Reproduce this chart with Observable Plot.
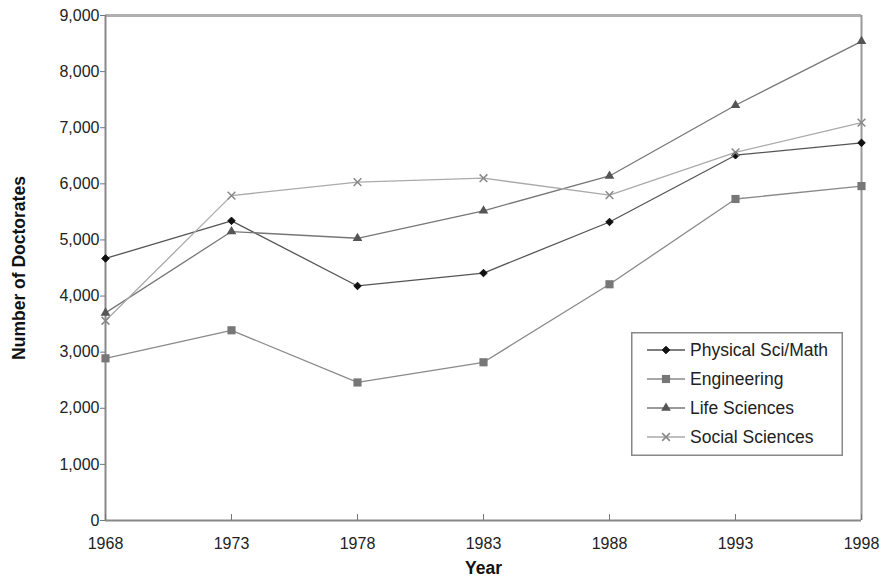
<!DOCTYPE html>
<html>
<head>
<meta charset="utf-8">
<script src="https://cdn.jsdelivr.net/npm/d3@7"></script>
<script src="https://cdn.jsdelivr.net/npm/@observablehq/plot@0.6"></script>
<style>
  html, body { margin: 0; padding: 0; background: #fff; }
  #wrap { position: relative; width: 888px; height: 586px; font-family: "Liberation Sans", Arial, sans-serif; }
  #legend { position: absolute; left: 631px; top: 332px; }
</style>
</head>
<body>
<div id="wrap"></div>
<script>
// ---- data ----
const years = [1968, 1973, 1978, 1983, 1988, 1993, 1998];
const seriesNames = ["Physical Sci/Math", "Engineering", "Life Sciences", "Social Sciences"];
const physical    = [4670, 5340, 4180, 4410, 5320, 6510, 6730];
const engineering = [2890, 3390, 2460, 2820, 4210, 5730, 5960];
const life        = [3700, 5150, 5030, 5520, 6140, 7400, 8540];
const social      = [3560, 5790, 6030, 6100, 5800, 6560, 7090];
const yTicks = [0, 1000, 2000, 3000, 4000, 5000, 6000, 7000, 8000, 9000];

// ---- styles ----
const styles = {
  "Physical Sci/Math": {line: "#555", symbol: "diamond2", fill: "#111", stroke: "#111", sw: 1, r: 3.4},
  "Engineering":       {line: "#8a8a8a", symbol: "square", fill: "#777", stroke: "none", sw: 0, r: 4.6},
  "Life Sciences":     {line: "#777", symbol: "triangle", fill: "#555", stroke: "none", sw: 0, r: 3.6},
  "Social Sciences":   {line: "#aaa", symbol: "times", fill: "none", stroke: "#888", sw: 1.5, r: 3.6}
};
const valueArrays = [physical, engineering, life, social];
const rows = [];
seriesNames.forEach((name, si) => {
  years.forEach((yr, i) => rows.push({series: name, year: yr, value: valueArrays[si][i]}));
});

const marks = [];
// frame lines
marks.push(Plot.ruleY([9000], {stroke: "#b0b0b0", strokeWidth: 3}));
marks.push(Plot.ruleX([1998], {stroke: "#999", strokeWidth: 2}));
marks.push(Plot.ruleX([1968], {stroke: "#888", strokeWidth: 2}));
marks.push(Plot.ruleY([0], {stroke: "#888", strokeWidth: 2}));

seriesNames.forEach(name => {
  const s = styles[name];
  const d = rows.filter(r => r.series === name);
  marks.push(Plot.line(d, {x: "year", y: "value", stroke: s.line, strokeWidth: 1.3}));
});
seriesNames.forEach(name => {
  const s = styles[name];
  const d = rows.filter(r => r.series === name);
  marks.push(Plot.dot(d, {x: "year", y: "value", symbol: () => s.symbol, r: s.r,
    fill: s.fill, stroke: s.stroke, strokeWidth: s.sw}));
});

marks.push(Plot.axisY(yTicks, {tickSize: 5, tickPadding: 1, tickFormat: d3.format(","),
  fontSize: 16, fill: "#222", stroke: "#777", label: null}));
marks.push(Plot.axisX(years, {tickSize: -6, tickPadding: 23, tickFormat: "d",
  fontSize: 16, fill: "#222", stroke: "#777", label: null}));
marks.push(Plot.text(["Number of Doctorates"], {frameAnchor: "left", textAnchor: "middle", rotate: -90, dx: -86,
  fontSize: 17.5, fontWeight: "bold", fill: "#111", text: d => d}));
marks.push(Plot.text(["Year"], {frameAnchor: "bottom", textAnchor: "middle", dy: 53,
  fontSize: 17.5, fontWeight: "bold", fill: "#111", text: d => d}));

const chart = Plot.plot({
  width: 888,
  height: 586,
  marginLeft: 105,
  marginRight: 27,
  marginTop: 15,
  marginBottom: 66,
  style: {fontFamily: "'Liberation Sans', Arial, sans-serif", background: "#fff"},
  x: {type: "linear", domain: [1968, 1998]},
  y: {domain: [0, 9000]},
  symbol: {type: "identity"},
  marks
});
const wrap = document.getElementById("wrap");
wrap.appendChild(chart);

// ---- legend (HTML/SVG overlay) ----
const lw = 212, lh = 124;
const lg = d3.select(wrap).append("svg").attr("id", "legend")
  .attr("width", lw).attr("height", lh);
lg.append("rect").attr("x", 0.75).attr("y", 0.75).attr("width", lw - 1.5).attr("height", lh - 1.5)
  .attr("fill", "#fff").attr("stroke", "#888").attr("stroke-width", 1.5);
const symMap = {diamond2: d3.symbolDiamond2, square: d3.symbolSquare, triangle: d3.symbolTriangle, times: d3.symbolTimes};
seriesNames.forEach((name, i) => {
  const s = styles[name];
  const cy = 18 + i * 29;
  const g = lg.append("g");
  g.append("line").attr("x1", 16).attr("x2", 54).attr("y1", cy).attr("y2", cy)
    .attr("stroke", s.line).attr("stroke-width", 1.3);
  g.append("path").attr("transform", `translate(35,${cy})`)
    .attr("d", d3.symbol(symMap[s.symbol], s.r * s.r * Math.PI)())
    .attr("fill", s.fill).attr("stroke", s.stroke).attr("stroke-width", s.sw);
  g.append("text").attr("x", 59).attr("y", cy).attr("dy", "0.35em")
    .attr("font-size", 17.5).attr("fill", "#222")
    .attr("font-family", "'Liberation Sans', Arial, sans-serif")
    .text(name);
});
</script>
</body>
</html>
